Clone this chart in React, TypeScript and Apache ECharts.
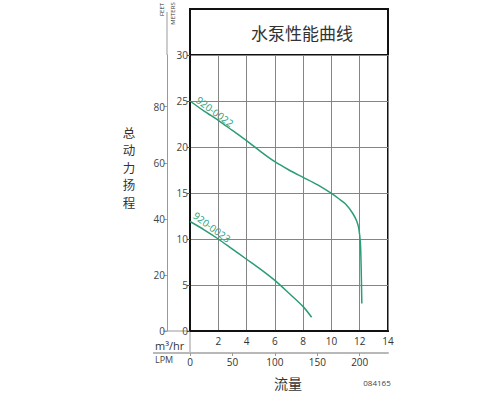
import React, { useEffect, useRef } from "react";
import * as echarts from "echarts";

// Data
const flowTicks = [2, 4, 6, 8, 10, 12, 14];
const lpmTicks = [0, 50, 100, 150, 200];
const feetTicks = [0, 20, 40, 60, 80];

const flow22 = [0, 1, 2, 3, 4, 5, 6, 7, 8, 9, 10, 10.5, 11, 11.5, 11.8, 11.95, 12.05, 12.1, 12.15];
const head22 = [25, 23.9, 22.9, 21.8, 20.7, 19.5, 18.4, 17.5, 16.7, 15.9, 14.95, 14.4, 13.8, 12.8, 11.9, 11.0, 9.5, 7.0, 3.0];

const flow23 = [0, 1, 2, 3, 4, 5, 6, 7, 8, 8.6];
const head23 = [11.9, 11.0, 10.0, 8.9, 7.8, 6.7, 5.5, 4.1, 2.65, 1.5];

const curveNames = ["920-0022", "920-0023"];
const yTitleChars = ["总", "动", "力", "扬", "程"];

const GREEN = "#2b9c76";
const FONT = "'Open Sans', 'Noto Sans', sans-serif";
const CJK = "'Noto Sans CJK SC', sans-serif";

export default function App() {
  const ref = useRef<HTMLDivElement>(null);
  useEffect(() => {
    if (!ref.current) return;
    const chart = echarts.init(ref.current, null, { renderer: "svg" });
    const deg = Math.PI / 180;
    const option: any = {
      animation: false,
      grid: {
        left: 190,
        right: 112,
        top: 55,
        bottom: 65,
        show: true,
        borderColor: "#111",
        borderWidth: 2,
        backgroundColor: "transparent",
      },
      xAxis: [
        {
          type: "value",
          min: 0,
          max: 14,
          interval: 2,
          position: "bottom",
          axisLine: { show: true, onZero: false, lineStyle: { color: "#111", width: 2 } },
          axisTick: { show: false },
          axisLabel: {
            customValues: flowTicks,
            color: "#333",
            fontSize: 10,
            fontFamily: FONT,
            margin: 5,
          },
          splitLine: { show: true, lineStyle: { color: "#858585", width: 1 } },
        },
        {
          type: "value",
          min: 0,
          max: 14 * 1000 / 60,
          interval: 50,
          position: "bottom",
          offset: 22,
          axisLine: { show: true, onZero: false, lineStyle: { color: "#b8b8b8", width: 2 } },
          axisTick: { show: true, customValues: lpmTicks, length: 3, lineStyle: { color: "#999" } },
          axisLabel: {
            customValues: lpmTicks,
            color: "#333",
            fontSize: 10,
            fontFamily: FONT,
            margin: 4,
          },
          splitLine: { show: false },
        },
      ],
      yAxis: [
        {
          type: "value",
          min: 0,
          max: 30,
          interval: 5,
          position: "left",
          axisLine: { show: true, onZero: false, lineStyle: { color: "#111", width: 2 } },
          axisTick: { show: true, length: 3, lineStyle: { color: "#555" } },
          axisLabel: { color: "#444", fontSize: 10, fontFamily: FONT, margin: 2 },
          splitLine: { show: true, lineStyle: { color: "#858585", width: 1 } },
        },
        {
          type: "value",
          min: 0,
          max: 30 * 3.28084,
          interval: 20,
          position: "left",
          offset: 23,
          axisLine: { show: true, onZero: false, lineStyle: { color: "#999", width: 1 } },
          axisTick: { show: true, customValues: feetTicks, length: 3, lineStyle: { color: "#999" } },
          axisLabel: {
            customValues: feetTicks,
            color: "#444",
            fontSize: 10,
            fontFamily: FONT,
            margin: 2,
          },
          splitLine: { show: false },
        },
      ],
      series: [
        {
          name: curveNames[0],
          type: "line",
          xAxisIndex: 0,
          yAxisIndex: 0,
          data: flow22.map((x, i) => [x, head22[i]]),
          showSymbol: false,
          symbol: "none",
          smooth: 0.3,
          lineStyle: { color: GREEN, width: 1.5 },
        },
        {
          name: curveNames[1],
          type: "line",
          xAxisIndex: 0,
          yAxisIndex: 0,
          data: flow23.map((x, i) => [x, head23[i]]),
          showSymbol: false,
          symbol: "none",
          smooth: 0.3,
          lineStyle: { color: GREEN, width: 1.5 },
        },
      ],
      graphic: [
        {
          type: "rect",
          shape: { x: 190, y: 9, width: 198, height: 46 },
          style: { fill: "none", stroke: "#111", lineWidth: 2 },
        },
        {
          type: "text",
          x: 302,
          y: 32,
          style: {
            text: "水泵性能曲线",
            fill: "#333",
            font: `17px ${CJK}`,
            align: "center",
            verticalAlign: "middle",
          },
        },
        {
          type: "text",
          x: 161.5,
          y: 9.5,
          rotation: Math.PI / 2,
          style: { text: "FEET", fill: "#333", font: `6px ${FONT}`, align: "center", verticalAlign: "middle" },
        },
        {
          type: "text",
          x: 172.5,
          y: 13.5,
          rotation: Math.PI / 2,
          style: { text: "METERS", fill: "#333", font: `6px ${FONT}`, align: "center", verticalAlign: "middle" },
        },
        { type: "line", shape: { x1: 167, y1: 12, x2: 167, y2: 55 }, style: { stroke: "#999", lineWidth: 1 } },
        { type: "line", shape: { x1: 163, y1: 331, x2: 190, y2: 331 }, style: { stroke: "#999", lineWidth: 1 } },
        { type: "line", shape: { x1: 190, y1: 331, x2: 190, y2: 353 }, style: { stroke: "#999", lineWidth: 1 } },
        { type: "line", shape: { x1: 153, y1: 353, x2: 190, y2: 353 }, style: { stroke: "#b8b8b8", lineWidth: 2 } },
        {
          type: "text",
          x: 155,
          y: 345,
          style: { text: "m³/hr", fill: "#333", font: `11px ${FONT}`, align: "left", verticalAlign: "middle" },
        },
        {
          type: "text",
          x: 155,
          y: 359,
          style: { text: "LPM", fill: "#444", font: `9px ${FONT}`, align: "left", verticalAlign: "middle" },
        },
        {
          type: "text",
          x: 288,
          y: 383,
          style: { text: "流量", fill: "#333", font: `14px ${CJK}`, align: "center", verticalAlign: "middle" },
        },
        {
          type: "text",
          x: 377,
          y: 382,
          style: { text: "084165", fill: "#444", font: `8px ${FONT}`, align: "center", verticalAlign: "middle" },
        },
        ...yTitleChars.map((ch, i) => ({
          type: "text",
          x: 129,
          y: 132 + i * 17.5,
          style: { text: ch, fill: "#333", font: `12.5px ${CJK}`, align: "center", verticalAlign: "middle" },
        })),
        {
          type: "text",
          x: 215,
          y: 111.5,
          rotation: -36.5 * deg,
          style: { text: curveNames[0], fill: GREEN, font: `10px ${FONT}`, align: "center", verticalAlign: "middle" },
        },
        {
          type: "text",
          x: 212,
          y: 227,
          rotation: -36.5 * deg,
          style: { text: curveNames[1], fill: GREEN, font: `10px ${FONT}`, align: "center", verticalAlign: "middle" },
        },
      ],
    };
    chart.setOption(option);
    return () => chart.dispose();
  }, []);
  return (
    <div
      ref={ref}
      style={{ position: "absolute", left: 0, top: 0, width: 500, height: 396, background: "#fff" }}
    />
  );
}
